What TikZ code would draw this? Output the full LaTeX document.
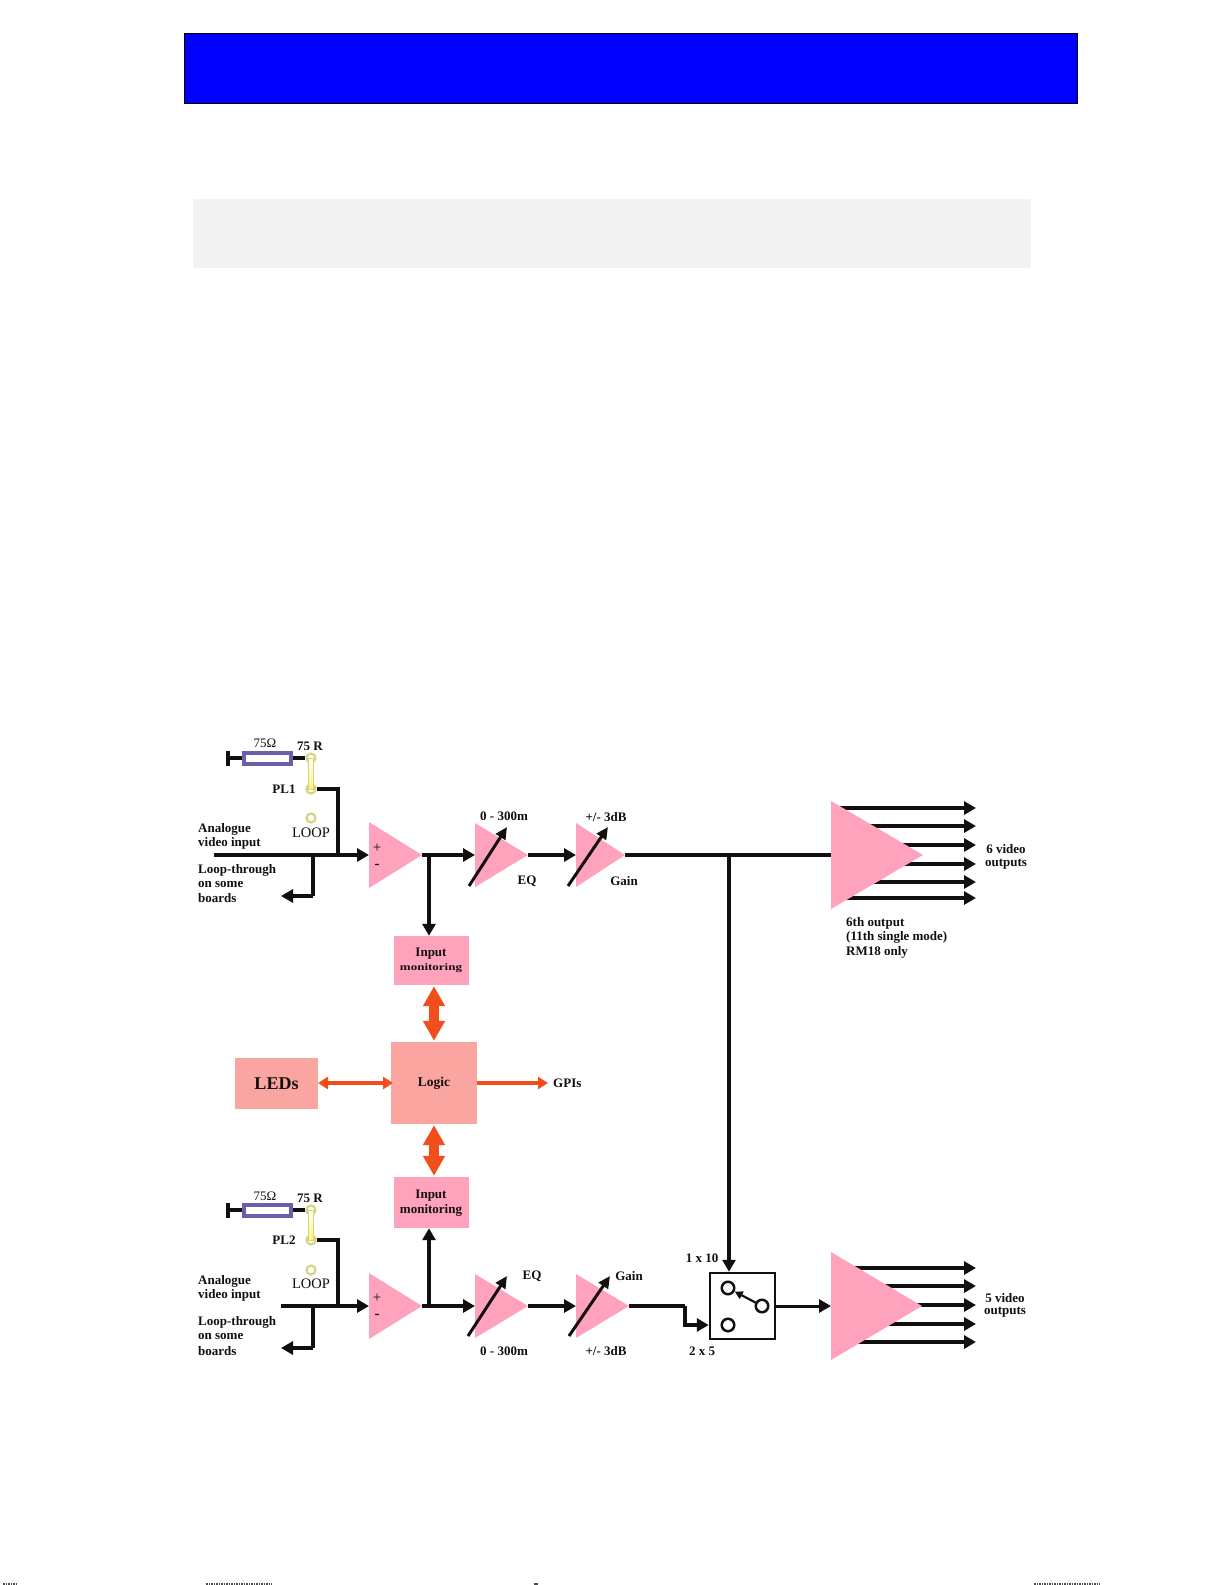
\documentclass[tikz,border=0pt]{standalone}
\usepackage{fontspec}
\setmainfont{Liberation Serif}
\usetikzlibrary{arrows.meta,calc}
\definecolor{inkc}{HTML}{140F0F}
\definecolor{pinkc}{HTML}{FFA3BD}
\definecolor{logicc}{HTML}{FBA5A0}
\definecolor{orangec}{HTML}{F24E1C}
\definecolor{purplec}{HTML}{6A5FA8}
\definecolor{ringc}{HTML}{D8D37E}
\definecolor{linkc}{HTML}{FFF27A}
\tikzset{
  lbl/.style={font=\bfseries\fontsize{13}{13}\selectfont,inner sep=0pt,text=inkc},
  lbr/.style={font=\fontsize{13}{13}\selectfont,inner sep=0pt,text=inkc},
  sig/.style={draw=inkc,line width=4.5pt,-{Triangle[length=12pt,width=13pt]}},
  wire/.style={draw=inkc,line width=4.5pt},
  thinsig/.style={draw=inkc,line width=3pt,-{Triangle[length=12pt,width=13pt]}},
  ctrl/.style={draw=orangec,line width=10pt,{Triangle[length=20pt,width=21pt]}-{Triangle[length=20pt,width=21pt]},shorten <=1pt,shorten >=1pt},
  ctrlthin/.style={draw=orangec,line width=4pt,{Triangle[length=10pt,width=12pt]}-{Triangle[length=10pt,width=12pt]}},
  ctrlone/.style={draw=orangec,line width=4pt,-{Triangle[length=10pt,width=12pt]}},
  pbox/.style={fill=pinkc,draw=none,inner sep=0pt,align=center},
  lbox/.style={fill=logicc,draw=none,inner sep=0pt,align=center},
  ringn/.style={circle,draw=ringc,line width=2.2pt,fill=white,minimum size=9pt,inner sep=0pt},
  res/.style={draw=purplec,line width=4pt,fill=white,minimum width=47pt,minimum height=11pt,inner sep=0pt},
  swc/.style={circle,draw=inkc,line width=2.5pt,fill=white,minimum size=12.5pt,inner sep=0pt},
}
\newcommand{\amp}[5]{% name xl xr ytop ybot
  \coordinate (#1-in) at (#2,{(#4+#5)/2});
  \coordinate (#1-out) at (#3,{(#4+#5)/2});
  \coordinate (#1-t) at (#2,#4);
  \coordinate (#1-b) at (#2,#5);
}
\newcommand{\ampfill}[1]{\fill[pinkc] (#1-t) -- (#1-out) -- (#1-b) -- cycle;}
\newcommand{\termset}[4]{% suffix y-resistor y-pinb y-loop
  \coordinate (gnd#1) at (228,#2);
  \draw[inkc,line width=4.5pt] (228,#2-7.5) -- (228,#2+7.5);
  \node[res] (res#1) at (267,#2) {};
  \node[ringn] (pa#1) at (311,#2) {};
  \node[ringn] (pb#1) at (311,#3) {};
  \node[ringn] (pc#1) at (311,#4) {};
  \draw[wire] (gnd#1) -- (res#1.west);
  \draw[wire] (res#1.east) -- (pa#1.west);
  \shade[top color=white,bottom color=linkc,draw=ringc,line width=.6pt] (308.5,#2) rectangle (313.5,#3);
}
\begin{document}
\begin{tikzpicture}[x=1pt,y=-1pt]
\useasboundingbox (0,0) rectangle (1225,1585);
\fill[white] (0,0) rectangle (1225,1585);
% header
\node[draw=black,line width=1pt,fill=blue,minimum width=893pt,minimum height=70pt,inner sep=0pt] (title) at (630.5,68) {};
\node[fill=black!5,minimum width=838pt,minimum height=69pt,inner sep=0pt] (note) at (612,233.5) {};

% amplifier geometry
\amp{a1}{369}{422}{822}{888}
\amp{eq1}{475}{528}{823}{887}
\amp{g1}{576}{625}{823}{887}
\amp{big1}{831}{923}{801}{909}
\amp{a2}{369}{422}{1273}{1339}
\amp{eq2}{475}{528}{1274}{1338}
\amp{g2}{576}{629}{1274}{1338}
\amp{big2}{831}{922}{1252}{1360}

% boxes
\node[pbox,minimum width=75pt,minimum height=49pt] (inA) at (431.5,960.5) {};
\node[lbl,anchor=center] (inAt1) at (431,954) {Input};
\node[lbl,anchor=center] (inAt2) at (431,968) {\fontsize{10}{10}\selectfont\scalebox{1.3}[1]{monitoring}};
\node[lbox,minimum width=86pt,minimum height=82pt,font=\bfseries\fontsize{13.5}{14}\selectfont,text=inkc] (logic) at (434,1083) {Logic};
\node[lbox,minimum width=83pt,minimum height=51pt,font=\bfseries\fontsize{18}{18}\selectfont,text=inkc] (leds) at (276.5,1083.5) {LEDs};
\node[pbox,minimum width=75pt,minimum height=51pt] (inB) at (431.5,1202.5) {};
\node[lbl,anchor=center] (inBt1) at (431,1196) {Input};
\node[lbl,anchor=center] (inBt2) at (431,1210) {monitoring};
\node[lbl,anchor=west] (gpi) at (553,1083.5) {GPIs};
\coordinate (gpiend) at (548,1083);
\coordinate (ledsE) at (318,1083);
\coordinate (logicW) at (393,1083);

% orange connectors
\draw[ctrl] (logic.north) -- (logic.north |- inA.south);
\draw[ctrl] (logic.south) -- (logic.south |- inB.north);
\draw[ctrlthin] (ledsE) -- (logicW);
\draw[ctrlone] (logic.east) -- (gpiend);

% termination blocks
\termset{A}{758}{789}{818}
\termset{B}{1210}{1240}{1270}

% top row
\coordinate (inS1) at (214,855);
\coordinate (j1) at (313,855);
\coordinate (l1) at (313,896);
\coordinate (lt1) at (281,896);
\coordinate (c1) at (338,789);
\coordinate (c1d) at (338,855);
\coordinate (o1) at (429,855);
\draw[sig] (inS1) -- (a1-in);
\draw[wire] (j1) -- (l1);
\draw[sig] (l1) -- (lt1);
\draw[wire,line join=miter] (pbA.east) -- (c1) -- (c1d);
\draw[sig] (a1-out) -- (eq1-in);
\draw[sig] (o1) -- (o1 |- inA.north);
\draw[sig] (eq1-out) -- (g1-in);
\draw[wire] (g1-out) -- (big1-in);
\foreach \yy/\nm in {808/a,826/b,845/c,864/d,882/e,898/f}{
  \coordinate (s1\nm) at (835,\yy);
  \coordinate (e1\nm) at (976,\yy);
  \draw[sig] (s1\nm) -- (e1\nm);
}
\ampfill{a1}\ampfill{eq1}\ampfill{g1}\ampfill{big1}

% bottom row
\coordinate (inS2) at (281,1306);
\coordinate (j2) at (313,1306);
\coordinate (l2) at (313,1348);
\coordinate (lt2) at (281,1348);
\coordinate (c2) at (338,1240);
\coordinate (c2d) at (338,1306);
\coordinate (o2) at (429,1306);
\draw[sig] (inS2) -- (a2-in);
\draw[wire] (j2) -- (l2);
\draw[sig] (l2) -- (lt2);
\draw[wire,line join=miter] (pbB.east) -- (c2) -- (c2d);
\draw[sig] (a2-out) -- (eq2-in);
\draw[sig] (o2) -- (o2 |- inB.south);
\draw[sig] (eq2-out) -- (g2-in);

% switch
\node[draw=inkc,line width=2.5pt,fill=white,minimum width=65pt,minimum height=66pt,inner sep=0pt] (sw) at (742.5,1306) {};
\node[swc] (swa) at (728,1288) {};
\node[swc] (swb) at (728,1325) {};
\node[swc] (swc) at (762,1306) {};
\draw[draw=inkc,line width=2.2pt,-{Triangle[length=8pt,width=8pt]}] (swc) -- (swa);
\coordinate (v1) at (729,855);
\coordinate (h1) at (685,1306);
\coordinate (h2) at (685,1325);
\draw[sig] (v1) -- (v1 |- sw.north);
\draw[wire] (g2-out) -- (h1);
\draw[sig,line join=miter] (h1) -- (h2) -- (h2 -| sw.west);
\draw[thinsig] (sw.east) -- (big2-in);
\foreach \yy/\nm in {1268/a,1286/b,1305/c,1324/d,1342/e}{
  \coordinate (s2\nm) at (835,\yy);
  \coordinate (e2\nm) at (976,\yy);
  \draw[sig] (s2\nm) -- (e2\nm);
}
\ampfill{a2}\ampfill{eq2}\ampfill{g2}\ampfill{big2}

% adjustable arrows
\foreach \nm/\ax/\ay/\bx/\by in {k1/469/886/507/827,k2/568/886/608/827,k3/468/1336/507/1276,k4/569/1336/610/1276}{
  \coordinate (\nm s) at (\ax,\ay);
  \coordinate (\nm e) at (\bx,\by);
  \draw[draw=inkc,line width=3pt,-{Triangle[length=12pt,width=11pt]}] (\nm s) -- (\nm e);
}

% plus and minus
\node[lbr,font=\fontsize{15}{15}\selectfont] (pl1) at (377,848) {+};
\node[lbl,font=\bfseries\fontsize{15}{15}\selectfont] (mi1) at (377,866) {-};
\node[lbr,font=\fontsize{15}{15}\selectfont] (pl2) at (377,1298) {+};
\node[lbl,font=\bfseries\fontsize{15}{15}\selectfont] (mi2) at (377,1316) {-};

% labels top
\node[lbr] (om1) at (265,743) {75Ω};
\node[lbl] (r1) at (310,746) {75 R};
\node[lbl] (pl1t) at (284,789) {PL1};
\node[lbr,font=\fontsize{14.5}{14.5}\selectfont] (lp1) at (311,833) {LOOP};
\node[lbl,anchor=west] (an1) at (198,829) {Analogue};
\node[lbl,anchor=west] (an1b) at (198,843) {video input};
\node[lbl,anchor=west] (lt1a) at (198,870) {Loop-through};
\node[lbl,anchor=west] (lt1b) at (198,884) {on some};
\node[lbl,anchor=west] (lt1c) at (198,898) {boards};
\node[lbl] (m1) at (504,816) {0 - 300m};
\node[lbl] (eq1t) at (527,881) {EQ};
\node[lbl] (db1) at (606,817) {+/- 3dB};
\node[lbl] (gn1) at (624,881) {Gain};
\node[lbl] (v6a) at (1006,849) {6 video};
\node[lbl] (v6b) at (1006,864) {outputs};
\node[lbl,anchor=west] (n6a) at (846,923) {6th output};
\node[lbl,anchor=west] (n6b) at (846,937) {(11th single mode)};
\node[lbl,anchor=west] (n6c) at (846,952) {RM18 only};

% labels bottom
\node[lbr] (om2) at (265,1196) {75Ω};
\node[lbl] (r2) at (310,1198) {75 R};
\node[lbl] (pl2t) at (284,1240) {PL2};
\node[lbr,font=\fontsize{14.5}{14.5}\selectfont] (lp2) at (311,1284) {LOOP};
\node[lbl,anchor=west] (an2) at (198,1281) {Analogue};
\node[lbl,anchor=west] (an2b) at (198,1295) {video input};
\node[lbl,anchor=west] (lt2a) at (198,1322) {Loop-through};
\node[lbl,anchor=west] (lt2b) at (198,1336) {on some};
\node[lbl,anchor=west] (lt2c) at (198,1351) {boards};
\node[lbl] (m2) at (504,1351) {0 - 300m};
\node[lbl] (eq2t) at (532,1276) {EQ};
\node[lbl] (db2) at (606,1351) {+/- 3dB};
\node[lbl] (gn2) at (629,1276) {Gain};
\node[lbl] (x10) at (702,1258) {1 x 10};
\node[lbl] (x5) at (702,1351) {2 x 5};
\node[lbl] (v5a) at (1005,1298) {5 video};
\node[lbl] (v5b) at (1005,1312) {outputs};

% scan residue at the page foot
\draw[black!70,line width=1.2pt,dash pattern=on 1.5pt off 1pt] (3,1584) -- (16,1584);
\draw[black!70,line width=1.2pt,dash pattern=on 1.5pt off 1pt] (206,1584) -- (272,1584);
\draw[black!70,line width=1.2pt] (534,1584) -- (538,1584);
\draw[black!70,line width=1.2pt,dash pattern=on 1.5pt off 1pt] (1034,1584) -- (1100,1584);
\end{tikzpicture}
\end{document}
